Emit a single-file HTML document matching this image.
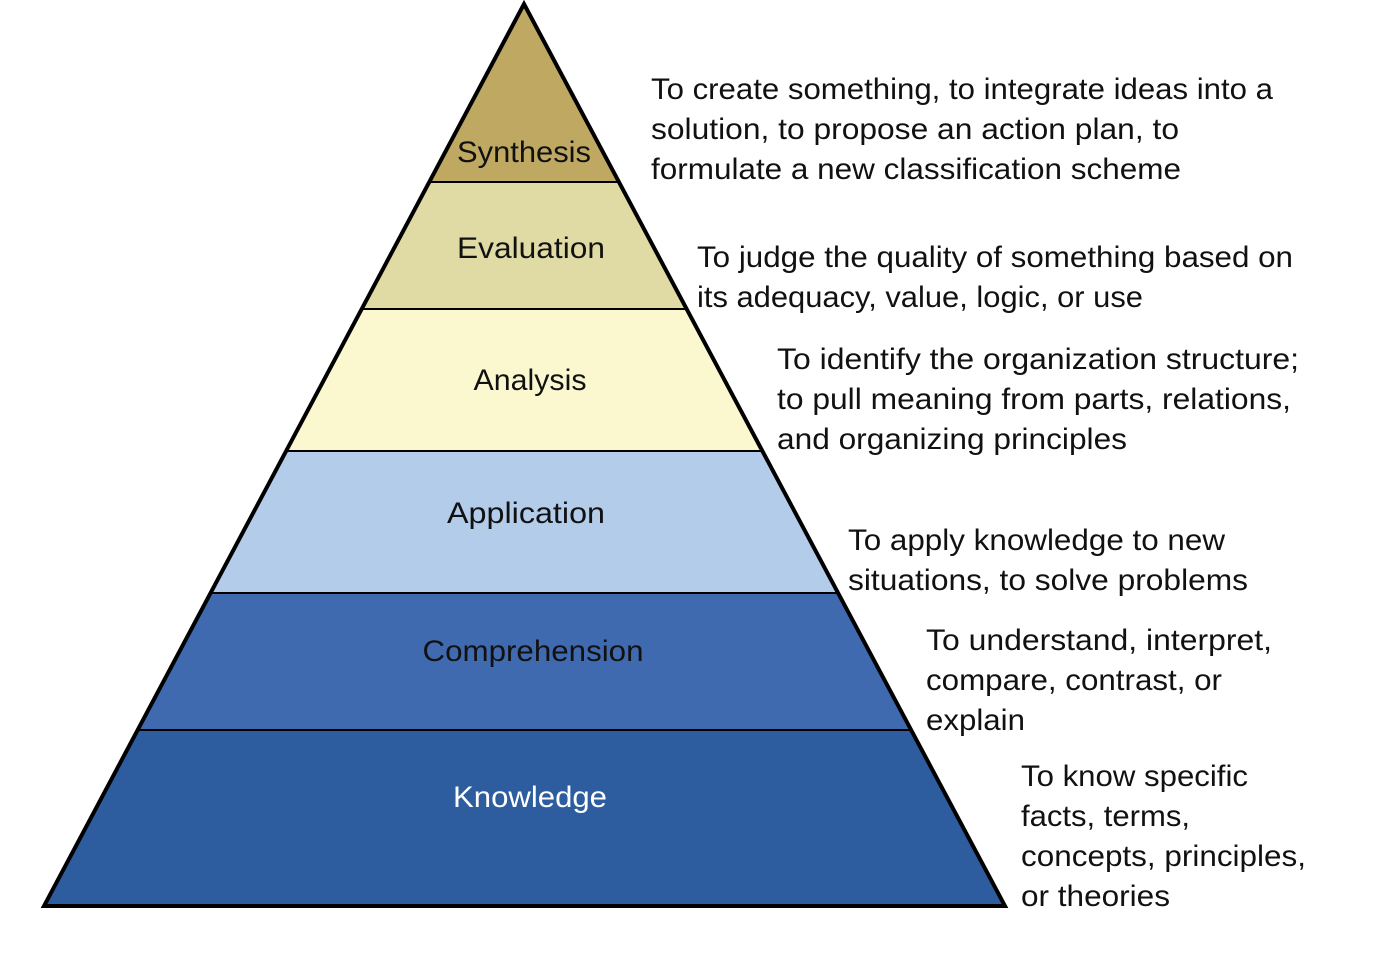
<!DOCTYPE html>
<html><head><meta charset="utf-8"><style>
html,body{margin:0;padding:0;background:#fff;}
svg{display:block}
text{font-family:"Liberation Sans",sans-serif;font-size:30px;fill:#111;}
</style></head><body>
<svg width="1375" height="967" viewBox="0 0 1375 967" xmlns="http://www.w3.org/2000/svg">
<polygon points="524,4 619,182 429.4,182" fill="#BEA862"/>
<polygon points="429.4,182 619,182 686.5,309 361.9,309" fill="#E0DBA4"/>
<polygon points="361.9,309 686.5,309 762.1,451 286.4,451" fill="#FBF8D0"/>
<polygon points="286.4,451 762.1,451 837.8,593 210.9,593" fill="#B3CCEA"/>
<polygon points="210.9,593 837.8,593 910.7,730 138.1,730" fill="#3F6AB0"/>
<polygon points="138.1,730 910.7,730 1005,906 44,906" fill="#2D5D9E"/>
<g stroke="#000" stroke-width="2">
<line x1="429.4" y1="182" x2="619" y2="182"/>
<line x1="361.9" y1="309" x2="686.5" y2="309"/>
<line x1="286.4" y1="451" x2="762.1" y2="451"/>
<line x1="210.9" y1="593" x2="837.8" y2="593"/>
<line x1="138.1" y1="730" x2="910.7" y2="730"/>
</g>
<polygon points="524,4 1005,906 44,906" fill="none" stroke="#000" stroke-width="4" stroke-linejoin="miter"/>
<g text-anchor="middle">
<text x="524" y="162" textLength="134" lengthAdjust="spacingAndGlyphs">Synthesis</text>
<text x="531" y="258" textLength="148" lengthAdjust="spacingAndGlyphs">Evaluation</text>
<text x="530" y="390" textLength="113" lengthAdjust="spacingAndGlyphs">Analysis</text>
<text x="526" y="523" textLength="158" lengthAdjust="spacingAndGlyphs">Application</text>
<text x="533" y="661" textLength="221" lengthAdjust="spacingAndGlyphs">Comprehension</text>
<text x="530" y="807" textLength="154" lengthAdjust="spacingAndGlyphs" style="fill:#fff">Knowledge</text>
</g>
<g>
<text x="651" y="99" textLength="622" lengthAdjust="spacingAndGlyphs">To create something, to integrate ideas into a</text>
<text x="651" y="139" textLength="528" lengthAdjust="spacingAndGlyphs">solution, to propose an action plan, to</text>
<text x="651" y="179" textLength="530" lengthAdjust="spacingAndGlyphs">formulate a new classification scheme</text>
<text x="697" y="267" textLength="596" lengthAdjust="spacingAndGlyphs">To judge the quality of something based on</text>
<text x="697" y="307" textLength="446" lengthAdjust="spacingAndGlyphs">its adequacy, value, logic, or use</text>
<text x="777" y="369" textLength="522" lengthAdjust="spacingAndGlyphs">To identify the organization structure;</text>
<text x="777" y="409" textLength="514" lengthAdjust="spacingAndGlyphs">to pull meaning from parts, relations,</text>
<text x="777" y="449" textLength="350" lengthAdjust="spacingAndGlyphs">and organizing principles</text>
<text x="848" y="550" textLength="377" lengthAdjust="spacingAndGlyphs">To apply knowledge to new</text>
<text x="848" y="590" textLength="400" lengthAdjust="spacingAndGlyphs">situations, to solve problems</text>
<text x="926" y="650" textLength="346" lengthAdjust="spacingAndGlyphs">To understand, interpret,</text>
<text x="926" y="690" textLength="296" lengthAdjust="spacingAndGlyphs">compare, contrast, or</text>
<text x="926" y="730" textLength="99" lengthAdjust="spacingAndGlyphs">explain</text>
<text x="1021" y="786" textLength="227" lengthAdjust="spacingAndGlyphs">To know specific</text>
<text x="1021" y="826" textLength="169" lengthAdjust="spacingAndGlyphs">facts, terms,</text>
<text x="1021" y="866" textLength="285" lengthAdjust="spacingAndGlyphs">concepts, principles,</text>
<text x="1021" y="906" textLength="149" lengthAdjust="spacingAndGlyphs">or theories</text>
</g>
</svg>
</body></html>
